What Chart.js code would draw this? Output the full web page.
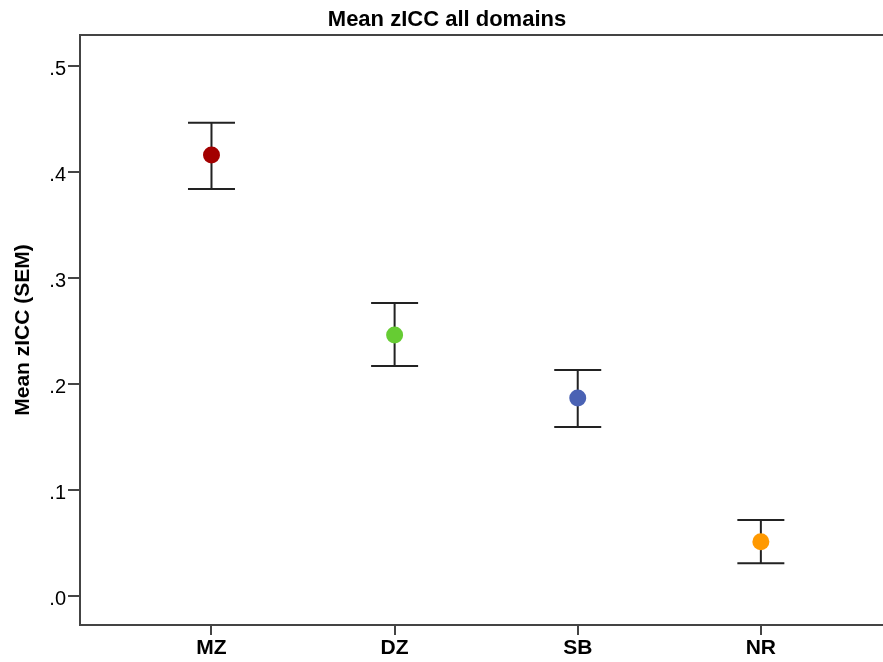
<!DOCTYPE html>
<html>
<head>
<meta charset="utf-8">
<script src="https://cdn.jsdelivr.net/npm/chart.js@4"></script>
<style>
  html, body { margin: 0; padding: 0; background: #fff; }
  #wrap { width: 883px; height: 662px; }
</style>
</head>
<body>
<div id="wrap"><canvas id="myChart" width="883" height="662"></canvas></div>
<script>
const groups = ['MZ', 'DZ', 'SB', 'NR'];
const means = [0.4158, 0.2459, 0.1865, 0.0509];
const upper = [0.4462, 0.2761, 0.2129, 0.0714];
const lower = [0.3837, 0.2167, 0.1591, 0.0306];
const colors = ['#a30000', '#66cc33', '#4a62b4', '#ff9900'];
const yTicks = [0, 0.1, 0.2, 0.3, 0.4, 0.5];

const font = 'Liberation Sans, Arial, sans-serif';
const axisColor = '#444';

// error bars (SEM) drawn behind the points
const errorBars = {
    id: 'errorBars',
    beforeDatasetsDraw(chart) {
        const ctx = chart.ctx;
        const x = chart.scales.x;
        const y = chart.scales.y;
        ctx.save();
        ctx.strokeStyle = '#222';
        ctx.lineWidth = 2;
        groups.forEach((g, i) => {
            const px = x.getPixelForValue(i);
            const top = y.getPixelForValue(upper[i]);
            const bot = y.getPixelForValue(lower[i]);
            ctx.beginPath();
            ctx.moveTo(px, top); ctx.lineTo(px, bot);
            ctx.moveTo(px - 23.5, top); ctx.lineTo(px + 23.5, top);
            ctx.moveTo(px - 23.5, bot); ctx.lineTo(px + 23.5, bot);
            ctx.stroke();
        });
        ctx.restore();
    }
};

// frame line on top + title
const frame = {
    id: 'frame',
    afterDraw(chart) {
        const ctx = chart.ctx;
        const a = chart.chartArea;
        ctx.save();
        ctx.strokeStyle = axisColor;
        ctx.lineWidth = 2;
        ctx.beginPath();
        ctx.moveTo(a.left, a.top);
        ctx.lineTo(a.right, a.top);
        ctx.stroke();
        ctx.fillStyle = '#000';
        ctx.font = 'bold 22px ' + font;
        ctx.textAlign = 'center';
        ctx.textBaseline = 'middle';
        ctx.fillText('Mean zICC all domains', 447, 20);
        ctx.restore();
    }
};

const data = {
    datasets: [{
        data: means.map((m, i) => ({ x: i, y: m })),
        pointRadius: 8.5,
        pointHoverRadius: 8.5,
        pointBackgroundColor: colors,
        pointBorderColor: colors,
        pointBorderWidth: 0,
        showLine: false
    }]
};

const config = {
    type: 'scatter',
    data: data,
    options: {
        responsive: false,
        animation: false,
        layout: { autoPadding: false, padding: { top: 35, right: 0, left: 0, bottom: 0 } },
        plugins: {
            legend: { display: false },
            tooltip: { enabled: false }
        },
        scales: {
            x: {
                type: 'linear',
                min: -0.718,
                max: 3.667,
                afterBuildTicks: (s) => { s.ticks = groups.map((g, i) => ({ value: i })); },
                afterFit: (s) => { s.height = 37; },
                ticks: {
                    callback: (v) => groups[v],
                    color: '#000',
                    font: { family: font, size: 21, weight: 'bold' },
                    padding: 1
                },
                grid: { drawOnChartArea: false, color: axisColor, tickLength: 10, lineWidth: 2 },
                border: { color: axisColor, width: 2 }
            },
            y: {
                min: -0.0276,
                max: 0.529,
                afterBuildTicks: (s) => { s.ticks = yTicks.map(v => ({ value: v })); },
                afterFit: (s) => { s.width = 80; },
                ticks: {
                    callback: (v) => v.toFixed(1).replace(/^0/, ''),
                    color: '#000',
                    font: { family: font, size: 20 },
                    padding: 2,
                    labelOffset: 4
                },
                grid: { drawOnChartArea: false, color: axisColor, tickLength: 12, lineWidth: 2 },
                border: { color: axisColor, width: 2 },
                title: {
                    display: true,
                    text: 'Mean zICC (SEM)',
                    color: '#000',
                    font: { family: font, size: 21, weight: 'bold' },
                    padding: { top: 11, bottom: 0 }
                }
            }
        }
    },
    plugins: [errorBars, frame]
};

const myChart = new Chart(document.getElementById('myChart'), config);
</script>
</body>
</html>
